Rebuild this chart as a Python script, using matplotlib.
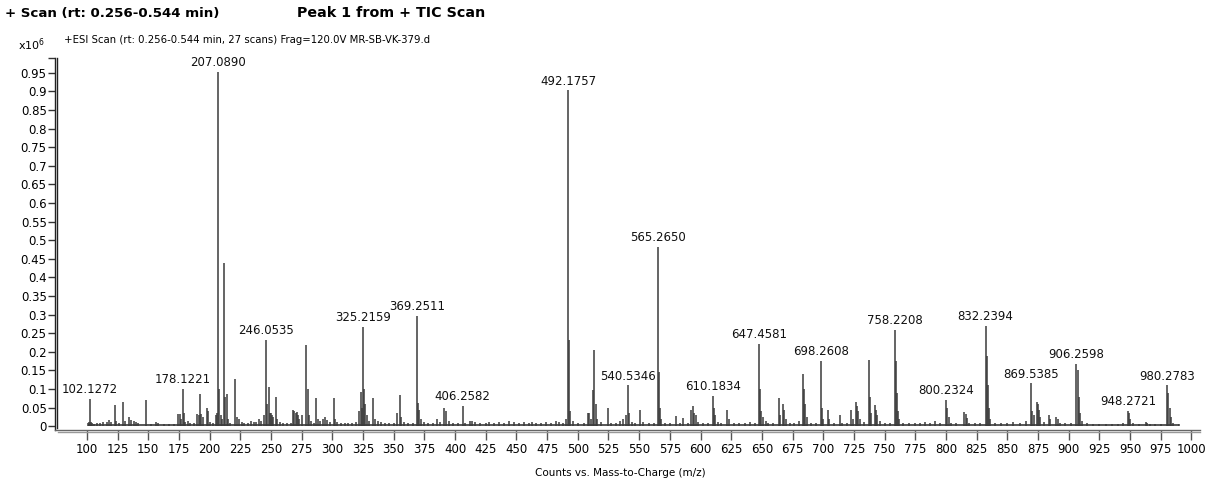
import matplotlib
matplotlib.use("Agg")
import matplotlib.pyplot as plt
from matplotlib.lines import Line2D

# peak list (m/z, intensity in x10^6 counts)
mz = [100.5, 101.3, 102.1272, 103, 104, 106, 108, 111, 113, 116, 118, 120, 122.5, 123.5, 126,
      129.5, 131, 134, 136, 138, 140, 142, 148.5, 152, 156, 158, 163, 167, 171, 174, 176, 177,
      178.1221, 179, 180, 182, 184, 187, 190, 191, 192.4, 193, 195, 197.5, 198.5, 200.5, 203,
      205, 206, 207.0890, 208, 209, 210, 211.9, 212.5, 213.8, 215, 217, 220.9, 222, 224, 226,
      228, 231, 234, 236, 238, 240, 242, 244, 246.0535, 247, 248, 249, 250, 251, 252, 254, 255,
      257, 260, 263, 266, 268, 269, 270, 271, 272, 273, 275, 278.8, 279.8, 281, 283, 285, 287,
      288, 290, 292, 294, 296, 298, 301, 302, 304, 307, 310, 313, 316, 319, 322, 323, 324,
      325.2159, 326, 327, 328, 330, 333, 335, 337, 340, 343, 346, 350, 353, 354.8, 356, 358,
      362, 366, 369.2511, 370, 371, 372, 375, 378, 382, 385, 388, 391.3, 393, 395, 398, 402,
      406.2582, 408, 412, 414, 416, 420, 425, 428, 432, 436, 440, 444, 448, 452, 456, 460, 463,
      466, 470, 474, 478, 482, 485, 488, 490,
      492.1757, 493.2, 494, 496, 500, 505, 508, 509, 511, 512.5, 513.5, 514.5, 516, 519, 524.4,
      527, 531, 534, 537, 539, 540.5346, 541.5, 544, 547, 551, 553, 558, 562, 565.2650, 566.3,
      567.3, 568, 571, 575, 579.7, 583, 586, 590, 592.5, 593.7, 595, 596, 598, 602, 606,
      610.1834, 611, 612, 614, 617, 621.7, 623, 627, 631, 636, 640, 644, 647.4581, 648.5, 649.5,
      651, 653, 655, 659, 663.7, 664.5, 667.3, 668.3, 670, 673, 676, 680, 683.5, 684.5, 685.5,
      687, 690, 694, 698.2608, 699.3, 700, 703.8, 705, 709, 713.3, 715, 719, 723, 724, 726.5,
      727.5, 728.5, 730, 733, 737.3, 738.3, 739.3, 742, 743, 744, 746, 750, 754, 758.2208,
      759.2, 760.2, 761.2, 762, 765, 770, 775, 779, 783, 787, 791, 795, 800.2324, 801.2, 802.2,
      804, 808, 815, 816, 817, 819, 824, 828, 832.2394, 833.2, 834.2, 835.2, 836, 840, 845, 850,
      855, 860, 865, 869.5385, 870.5, 872, 874, 875, 876, 877, 880, 884, 885, 890, 891, 893, 897,
      902, 906.2598, 907.3, 908.3, 909.3, 911, 915, 920, 925, 930, 935, 940, 944, 948.2721,
      949.3, 950.3, 952, 957, 963, 964, 966, 970, 975, 980.2783, 981.3, 982.3, 983.3, 985, 990]
counts = [0.01, 0.012, 0.074, 0.012, 0.008, 0.006, 0.008, 0.01, 0.012, 0.012, 0.016, 0.012, 0.058,
          0.015, 0.01, 0.065, 0.015, 0.025, 0.018, 0.015, 0.012, 0.008, 0.07, 0.006, 0.012, 0.01,
          0.005, 0.005, 0.006, 0.032, 0.032, 0.02, 0.101, 0.035, 0.012, 0.015, 0.008, 0.01, 0.032,
          0.03, 0.088, 0.033, 0.025, 0.05, 0.04, 0.012, 0.01,
          0.03, 0.035, 0.952, 0.1, 0.03, 0.02, 0.438, 0.08, 0.088, 0.02, 0.01, 0.126, 0.025, 0.02,
          0.012, 0.008, 0.008, 0.015, 0.012, 0.012, 0.02, 0.015, 0.03, 0.233, 0.06, 0.106, 0.035,
          0.035, 0.03, 0.025, 0.08, 0.02, 0.012, 0.01, 0.008, 0.01, 0.045, 0.04, 0.035, 0.038,
          0.03, 0.02, 0.03, 0.218, 0.1, 0.03, 0.015, 0.01, 0.076, 0.02, 0.015, 0.02, 0.025, 0.018,
          0.012, 0.076, 0.02, 0.012, 0.01, 0.01, 0.008, 0.01, 0.012, 0.04, 0.092, 0.05, 0.267,
          0.1, 0.06, 0.03, 0.015, 0.076, 0.02, 0.015, 0.012, 0.01, 0.008, 0.01, 0.035, 0.085,
          0.025, 0.012, 0.008, 0.01, 0.297, 0.062, 0.045, 0.02, 0.012, 0.01, 0.008, 0.02, 0.012,
          0.049, 0.04, 0.015, 0.008, 0.008, 0.055, 0.01, 0.015, 0.015, 0.012, 0.008, 0.01, 0.012,
          0.01, 0.012, 0.01, 0.015, 0.012, 0.01, 0.012, 0.01, 0.012, 0.008, 0.01, 0.012, 0.008,
          0.015, 0.012, 0.01, 0.02,
          0.903, 0.231, 0.04, 0.015, 0.008, 0.01, 0.035, 0.037, 0.02, 0.097, 0.204, 0.06, 0.02,
          0.012, 0.049, 0.01, 0.008, 0.015, 0.02, 0.03, 0.11, 0.035, 0.012, 0.008, 0.043, 0.012,
          0.008, 0.01, 0.482, 0.146, 0.05, 0.02, 0.01, 0.008, 0.028, 0.01, 0.022, 0.008, 0.045,
          0.054, 0.035, 0.03, 0.012, 0.01, 0.01, 0.081, 0.05, 0.03, 0.012, 0.008, 0.045, 0.02,
          0.01, 0.008, 0.01, 0.012, 0.01, 0.222, 0.101, 0.04, 0.025, 0.015, 0.01, 0.008, 0.077,
          0.03, 0.061, 0.045, 0.02, 0.01, 0.01, 0.015, 0.14, 0.1, 0.06, 0.025, 0.01, 0.01, 0.175,
          0.05, 0.02, 0.043, 0.02, 0.01, 0.03, 0.01, 0.01, 0.045, 0.02, 0.065, 0.055, 0.04, 0.02,
          0.012, 0.179, 0.079, 0.035, 0.056, 0.045, 0.03, 0.015, 0.01, 0.01, 0.26, 0.175, 0.09,
          0.04, 0.02, 0.01, 0.008, 0.01, 0.008, 0.012, 0.01, 0.015, 0.01, 0.07, 0.05, 0.025, 0.01,
          0.008, 0.038, 0.033, 0.022, 0.01, 0.008, 0.008, 0.269, 0.19, 0.11, 0.05, 0.02, 0.008,
          0.01, 0.008, 0.012, 0.01, 0.015, 0.115, 0.04, 0.03, 0.065, 0.06, 0.045, 0.025, 0.012,
          0.03, 0.02, 0.025, 0.02, 0.01, 0.008, 0.01, 0.168, 0.15, 0.08, 0.035, 0.015, 0.008,
          0.006, 0.006, 0.005, 0.006, 0.006, 0.008, 0.041, 0.035, 0.02, 0.01, 0.005, 0.012, 0.01,
          0.006, 0.005, 0.006, 0.11, 0.09, 0.05, 0.025, 0.01, 0.005]

# noise floor under the peaks
baseline = 0.003

label_mz = [102.1272, 178.1221, 207.0890, 246.0535, 325.2159, 369.2511, 406.2582, 492.1757,
            540.5346, 565.2650, 610.1834, 647.4581, 698.2608, 758.2208, 800.2324, 832.2394,
            869.5385, 906.2598, 948.2721, 980.2783]

x_ticks = list(range(100, 1001, 25))
y_ticks = [i * 0.05 for i in range(20)]

fig = plt.figure(figsize=(12.1, 4.86), dpi=100)
ax = fig.add_axes([55 / 1210, 1 - 430 / 486, 1145 / 1210, 372 / 486])

ax.hlines(baseline, min(mz), max(mz), color='#3a3a3a', lw=1.2)
ax.vlines(mz, 0, counts, color='#3a3a3a', lw=1.1)

for m in label_mz:
    h = counts[mz.index(m)]
    ax.annotate(f"{m:.4f}", (m, h), xytext=(0, 2), textcoords='offset points',
                ha='center', va='bottom', fontsize=8.5, color='#111')

ax.set_xlim(74, 1007)
ax.set_ylim(-0.01, 0.99)

ax.set_xticks(x_ticks)
ax.set_xticklabels([str(t) for t in x_ticks])
ax.set_yticks(y_ticks + [0.99])
ax.set_yticklabels(['%g' % round(t, 2) for t in y_ticks] + [''])
ax.tick_params(axis='x', direction='out', length=7, width=1, color='#555',
               labelsize=8.5, pad=2)
ax.tick_params(axis='y', direction='out', length=5, width=1, color='#333',
               labelsize=8.5, pad=1)

for s in ['top', 'right']:
    ax.spines[s].set_visible(False)
ax.spines['left'].set_color('#222')
ax.spines['left'].set_linewidth(1)
ax.spines['bottom'].set_color('#666')
ax.spines['bottom'].set_linewidth(1)

# double-line look of the axes
fig.add_artist(Line2D([57 / 1210, 57 / 1210], [1 - 428 / 486, 1 - 58 / 486],
                      color='#222', lw=1))
fig.add_artist(Line2D([58 / 1210, 1200 / 1210], [1 - 432 / 486, 1 - 432 / 486],
                      color='#999', lw=1))

fig.text(5 / 1210, 1 - 13 / 486, "+ Scan (rt: 0.256-0.544 min)", fontsize=9.6,
         fontweight='bold', va='center', ha='left')
fig.text(297 / 1210, 1 - 13 / 486, "Peak 1 from + TIC Scan", fontsize=10.3,
         fontweight='bold', va='center', ha='left')
fig.text(64 / 1210, 1 - 40 / 486,
         "+ESI Scan (rt: 0.256-0.544 min, 27 scans) Frag=120.0V MR-SB-VK-379.d",
         fontsize=7.3, va='center', ha='left')
fig.text(18 / 1210, 1 - 45 / 486, r"x10$^6$", fontsize=8, va='center', ha='left')
fig.text(620 / 1210, 1 - 473 / 486, "Counts vs. Mass-to-Charge (m/z)", fontsize=7.5,
         va='center', ha='center')

plt.savefig('out.png', dpi=100)
